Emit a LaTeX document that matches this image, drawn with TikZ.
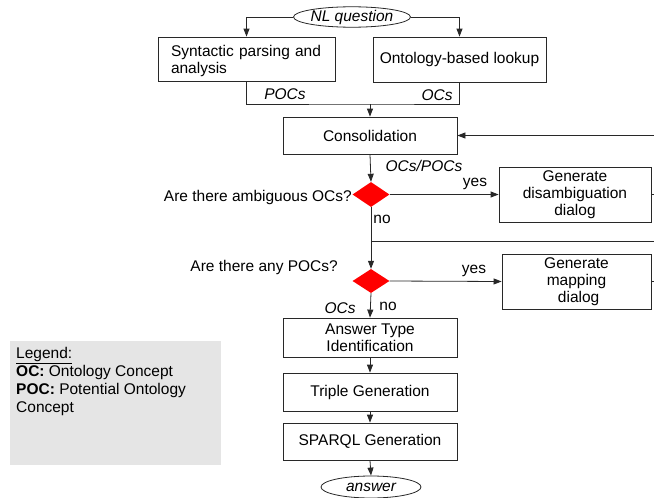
\documentclass[tikz,border=0pt]{standalone}
\usepackage{fontspec}
\setmainfont{Liberation Sans}
\usetikzlibrary{arrows.meta,shapes.geometric}
\definecolor{linec}{RGB}{40,40,40}
\definecolor{legendbg}{RGB}{229,229,229}
\begin{document}
\begin{tikzpicture}[x=1pt,y=-1pt,
  every node/.style={font=\fontsize{15.5}{17}\selectfont, inner sep=0pt},
  box/.style={draw=linec, line width=0.8pt, rectangle, align=center},
  oval/.style={draw=linec, line width=0.8pt, ellipse, font=\fontsize{15.5}{17}\selectfont\itshape},
  dec/.style={diamond, fill=red, draw=none},
  lab/.style={font=\fontsize{15.5}{17}\selectfont},
  ilab/.style={font=\fontsize{15.5}{17}\selectfont\itshape},
  conn/.style={draw=linec, line width=0.8pt},
  arr/.style={conn, -{Triangle[length=8pt,width=6pt]}}
]
\useasboundingbox (0,0) rectangle (654,498);

% nodes
\node[oval, minimum width=114pt, minimum height=20pt] (nl) at (352,17) {NL question};
\node[box, minimum width=177pt, minimum height=44pt, text width=151pt, align=left] (syn) at (246.5,59) {\rule{0pt}{15pt}Syntactic parsing and\\analysis};
\node[box, minimum width=173pt, minimum height=45pt] (onto) at (459.5,59.5) {Ontology-based lookup};
\node[box, minimum width=174pt, minimum height=37pt] (cons) at (370,135.5) {Consolidation};
\node[dec, minimum width=37pt, minimum height=25pt] (d1) at (371,194.5) {};
\node[box, minimum width=152pt, minimum height=55pt] (gd) at (575,194.5) {Generate\\disambiguation\\dialog};
\node[dec, minimum width=37pt, minimum height=24pt] (d2) at (371,281) {};
\node[box, minimum width=149pt, minimum height=55pt] (gm) at (576.5,281.5) {Generate\\mapping\\\ dialog};
\node[box, minimum width=174pt, minimum height=39pt] (ati) at (370,337.5) {Answer Type\\Identification};
\node[box, minimum width=174pt, minimum height=38pt] (tg) at (370,392) {Triple Generation};
\node[box, minimum width=174pt, minimum height=37pt] (sg) at (370,441.5) {SPARQL Generation};
\node[oval, minimum width=100pt, minimum height=22pt] (ans) at (371,487) {answer};

% legend
\node[fill=legendbg, minimum width=211pt, minimum height=124pt] (legend) at (115.5,403) {};
\node[anchor=north west, align=left, font=\fontsize{15.5}{18}\selectfont] (legtext) at (16,347)
  {\underline{Legend:}\\\textbf{OC:} Ontology Concept\\\textbf{POC:} Potential Ontology\\Concept};

% labels
\node[ilab] (lpocs) at (285,94) {POCs};
\node[ilab] (locs) at (437,95) {OCs};
\node[ilab] (locspocs) at (424,166) {OCs/POCs};
\node[lab, anchor=east] (q1) at (352,197) {Are there ambiguous OCs?};
\node[lab, anchor=east] (q2) at (338,267) {Are there any POCs?};
\node[lab] (yes1) at (475,184) {yes};
\node[lab] (no1) at (382,219) {no};
\node[lab] (yes2) at (474,271) {yes};
\node[lab] (no2) at (388,306) {no};
\node[ilab] (locs2) at (340,308) {OCs};

% coordinates
\coordinate (jp) at (370,104);
\coordinate (r1) at (654,135.5);
\coordinate (j) at (371,241);
\coordinate (r2) at (654,241);
\coordinate (r3) at (654,194.5);
\coordinate (r4) at (654,281.5);

% connectors
\draw[arr] (nl.west) -| (syn.north);
\draw[arr] (nl.east) -| (onto.north);
\draw[conn] (syn.south) |- (jp) -| (onto.south);
\draw[arr] (jp) -- (cons.north);
\draw[arr] (r1) -- (cons.east);
\draw[arr] (cons.south) -- (d1.north);
\draw[arr] (d1.east) -- (gd.west);
\draw[conn] (gd.east) -- (r3);
\draw[arr] (d1.south) -- (d2.north);
\draw[conn] (j) -- (r2);
\draw[arr] (d2.east) -- (gm.west);
\draw[conn] (gm.east) -- (r4);
\draw[arr] (d2.south) -- (ati.north);
\draw[arr] (ati.south) -- (tg.north);
\draw[arr] (tg.south) -- (sg.north);
\draw[arr] (sg.south) -- (ans.north);
\end{tikzpicture}
\end{document}
